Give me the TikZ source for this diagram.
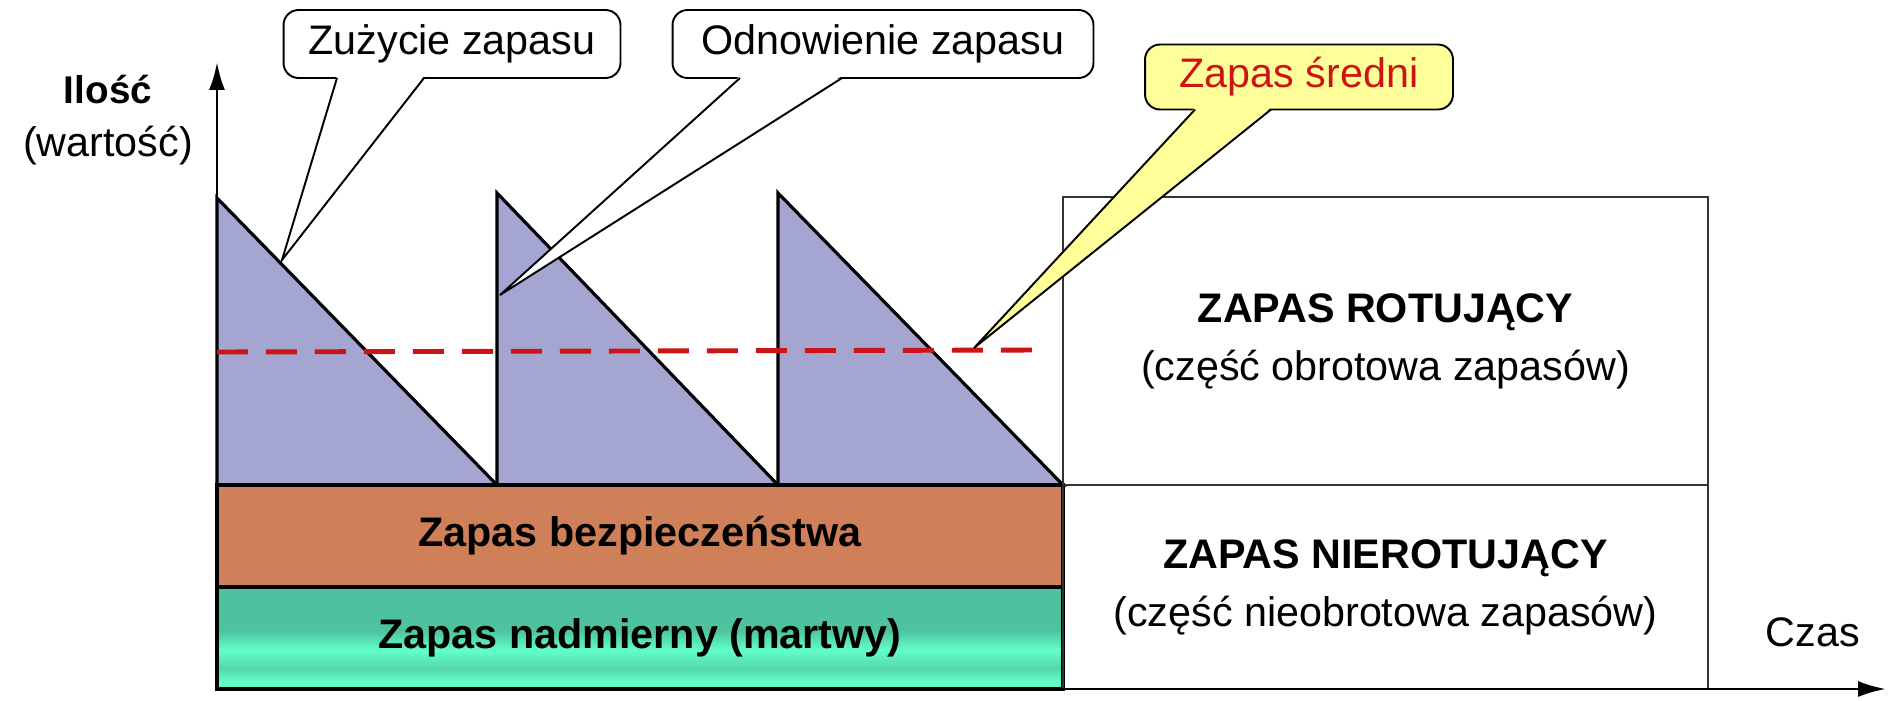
\documentclass[tikz,border=0pt]{standalone}
\usepackage{fontspec}
\setmainfont{Liberation Sans}
\usetikzlibrary{positioning,calc,arrows.meta}

\definecolor{sawblue}{RGB}{165,165,210}
\definecolor{safeorange}{RGB}{208,128,88}
\definecolor{deadgreen}{RGB}{78,194,158}
\definecolor{deadmid}{RGB}{84,214,172}
\definecolor{deadlight}{RGB}{98,255,200}
\definecolor{notered}{RGB}{204,20,20}
\definecolor{noteyellow}{RGB}{255,255,153}
\pgfdeclareverticalshading{deadshade}{100bp}{color(0bp)=(deadlight); color(25bp)=(deadlight); color(29bp)=(deadlight); color(35bp)=(deadmid); color(44bp)=(deadlight); color(54bp)=(deadgreen); color(100bp)=(deadgreen)}

\begin{document}
\begin{tikzpicture}
[x=0.02cm,y=-0.02cm,
 every node/.style={font=\fontsize{23.5}{26}\selectfont,inner sep=0mm,outer sep=0mm},
 bold/.style={font=\fontsize{23.5}{26}\selectfont\bfseries},
 twoline/.style={align=center,font=\fontsize{23.5}{33}\selectfont},
 saw/.style={draw=black,fill=sawblue,line width=1.8pt,line join=miter},
 band/.style={draw=black,line width=1.8pt},
 part/.style={draw=black!80,line width=0.9pt},
 axis/.style={draw=black,line width=1.6pt,-{Latex[length=0.56cm,width=0.32cm]}},
 avg/.style={draw=notered,line width=2.8pt,dash pattern=on 0.62cm off 0.36cm},
 note/.style={draw=black,fill=white,line width=1.1pt,rounded corners=0.3cm,minimum height=1.36cm},
 tip/.style={draw=black,line width=1.1pt},
 thick]
\useasboundingbox (0,0) rectangle (1890,700);

\coordinate (O)    at (217,689);
\coordinate (ytop) at (217,62);
\coordinate (xend) at (1886,689);

% stock cycles
\filldraw[saw] (217,485) -- (217,198) -- (497,485) -- cycle;
\filldraw[saw] (497,485) -- (497,193) -- (778,485) -- cycle;
\filldraw[saw] (778,485) -- (778,193) -- (1063,485) -- cycle;

% safety and dead stock
\draw[band,fill=safeorange] (217,485) rectangle node[bold] (safe) {Zapas bezpieczeństwa} (1063,587);
\shade[shading=deadshade] (217,587) rectangle (1063,689);
\draw[band] (217,587) rectangle node[bold] (dead) {Zapas nadmierny (martwy)} (1063,689);

% right hand parts
\draw[part] (1063,197) rectangle node[twoline] (rot)
  {\textbf{ZAPAS ROTUJĄCY}\\(część obrotowa zapasów)} (1708,485);
\draw[part] (1063,485) rectangle node[twoline] (nrot)
  {\textbf{ZAPAS NIEROTUJĄCY}\\(część nieobrotowa zapasów)} (1708,689);

% axes
\draw[axis] (O) -- (ytop);
\draw[axis] (O) -- (xend);
\node[bold,font=\fontsize{22}{26}\selectfont\bfseries] (qty) at (108,90) {Ilość};
\node (qtyval) [on grid,below=1.12cm of qty] {(wartość)};
\node (time) at (1813,632) {Czas};

% average stock
\coordinate (avgL) at (217,352);
\coordinate (avgR) at (1038,350);
\draw[avg] (avgL) -- (avgR);

% callouts
\node[note,minimum width=6.74cm] (useNote)    at (452,44)   {Zużycie zapasu};
\node[note,minimum width=8.42cm] (refillNote) at (883,44)   {Odnowienie zapasu};
\node[note,fill=noteyellow,text=notered,minimum width=6.16cm,minimum height=1.3cm] (avgNote) at (1299,77) {Zapas średni};
\coordinate (useTip)    at (282,260);
\coordinate (refillTip) at (500,295);
\coordinate (avgTip)    at (974,348);

\fill[white] ($(useNote.south)+(-115,-2)$) -- (useTip) -- ($(useNote.south)+(-28,-2)$) -- cycle;
\draw[tip]   ($(useNote.south)+(-115,0)$) -- (useTip) -- ($(useNote.south)+(-28,0)$);
\fill[white] ($(refillNote.south)+(-143,-2)$) -- (refillTip) -- ($(refillNote.south)+(-41,-2)$) -- cycle;
\draw[tip]   ($(refillNote.south)+(-143,0)$) -- (refillTip) -- ($(refillNote.south)+(-41,0)$);
\fill[noteyellow] ($(avgNote.south)+(-104,-2)$) -- (avgTip) -- ($(avgNote.south)+(-28,-2)$) -- cycle;
\draw[tip]   ($(avgNote.south)+(-104,0)$) -- (avgTip) -- ($(avgNote.south)+(-28,0)$);
\end{tikzpicture}
\end{document}
